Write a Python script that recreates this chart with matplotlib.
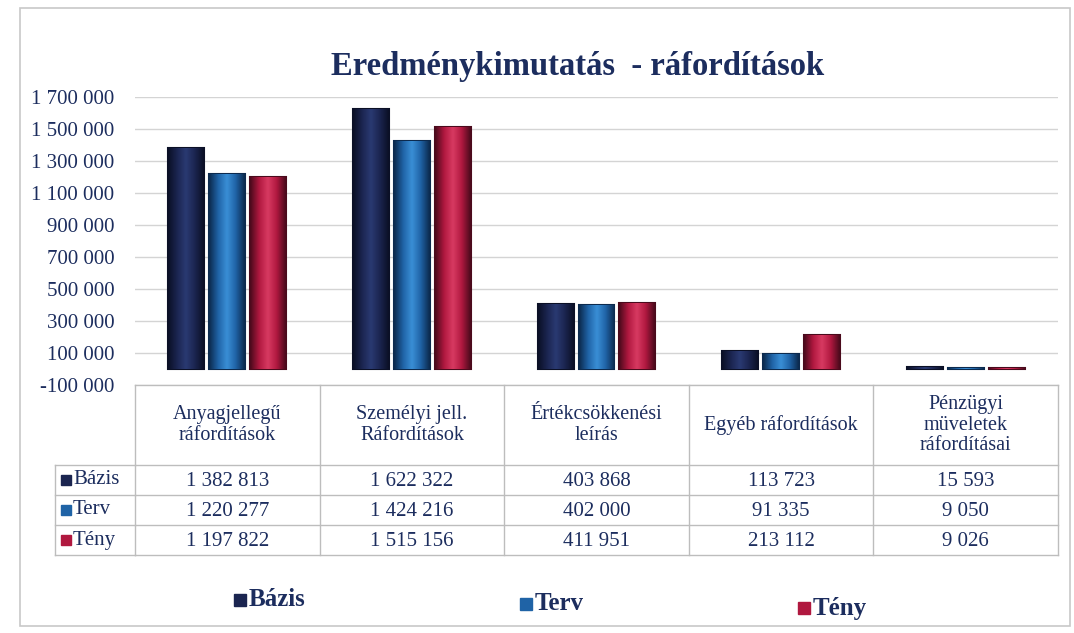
import numpy as np
import matplotlib
matplotlib.use("Agg")
import matplotlib.pyplot as plt
from matplotlib.colors import LinearSegmentedColormap
from matplotlib.patches import Rectangle

categories = ["Anyagjellegű\nráfordítások", "Személyi jell.\nRáfordítások",
              "Értékcsökkenési\nleírás", "Egyéb ráfordítások",
              "Pénzügyi\nmüveletek\nráfordításai"]
series_names = ["Bázis", "Terv", "Tény"]
bazis = [1382813, 1622322, 403868, 113723, 15593]
terv = [1220277, 1424216, 402000, 91335, 9050]
teny = [1197822, 1515156, 411951, 213112, 9026]
value_labels = [
    ["1 382 813", "1 622 322", "403 868", "113 723", "15 593"],
    ["1 220 277", "1 424 216", "402 000", "91 335", "9 050"],
    ["1 197 822", "1 515 156", "411 951", "213 112", "9 026"],
]
yticks = list(range(-100000, 1700001, 200000))
ytick_labels = ["-100 000", "100 000", "300 000", "500 000", "700 000", "900 000",
                "1 100 000", "1 300 000", "1 500 000", "1 700 000"]

colors = ["#1b2550", "#1f63a6", "#b0183f"]
dark = ["#0b1026", "#0c2a4e", "#4a0a1c"]
light = ["#2a3a72", "#3a8fd6", "#d83a62"]
txt = "#1c2d5e"
serif = ["Liberation Serif", "DejaVu Serif"]
plt.rcParams["font.family"] = serif

W, H = 1074, 633
fig = plt.figure(figsize=(W / 100, H / 100), dpi=100)
fig.patch.set_facecolor("white")

# overlay axes in pixel coordinates for table/frame
ov = fig.add_axes([0, 0, 1, 1])
ov.set_xlim(0, W)
ov.set_ylim(H, 0)
ov.axis("off")
ov.add_patch(Rectangle((20, 8), 1050, 618, fill=False, ec="#c8c8c8", lw=1.2))

# chart axes
x0, x1 = 135, 1058
ytop, ybot = 97, 385
ax = fig.add_axes([x0 / W, 1 - ybot / H, (x1 - x0) / W, (ybot - ytop) / H])
ax.set_facecolor("none")
n = len(categories)
ax.set_xlim(-0.5, n - 0.5)
ax.set_ylim(-100000, 1700000)
for s in ax.spines.values():
    s.set_visible(False)
ax.set_xticks([])
ax.set_yticks(yticks)
ax.set_yticklabels(ytick_labels, fontsize=15, color=txt)
ax.tick_params(axis="y", length=0, pad=15)
ax.grid(axis="y", color="#d4d4d4", lw=1)
ax.set_axisbelow(True)

xs = np.arange(n)
bw = 0.195
off = 0.222
for i, (vals, c, d, l) in enumerate(zip([bazis, terv, teny], colors, dark, light)):
    bars = ax.bar(xs + (i - 1) * off, vals, bw, color=c, edgecolor=d, lw=1.5, zorder=3)
    cmap = LinearSegmentedColormap.from_list("g", [d, c, l, c, d])
    grad = np.linspace(0, 1, 64)[None, :]
    for b in bars:
        bx, by = b.get_x(), b.get_y()
        bwid, bh = b.get_width(), b.get_height()
        im = ax.imshow(grad, cmap=cmap, aspect="auto", extent=(bx, bx + bwid, by, by + bh),
                       zorder=3.5, interpolation="bicubic")
        im.set_clip_path(b)
ax.set_xlim(-0.5, n - 0.5)
ax.set_ylim(-100000, 1700000)

# title
fig.text(578 / W, 1 - 66 / H, "Eredménykimutatás  - ráfordítások", ha="center", va="center",
         fontsize=23.5, fontweight="bold", color=txt)

# table
cols = np.linspace(x0, x1, n + 1)
rows = [385, 465, 495, 525, 555]
gc = "#bdbdbd"
for cx in cols:
    ov.plot([cx, cx], [rows[0], rows[-1]], color=gc, lw=1)
for ry in rows:
    ov.plot([x0, x1], [ry, ry], color=gc, lw=1)
for ry in rows[1:]:
    ov.plot([55, x0], [ry, ry], color=gc, lw=1)
ov.plot([55, 55], [rows[1], rows[-1]], color=gc, lw=1)
for j, cat in enumerate(categories):
    cx = (cols[j] + cols[j + 1]) / 2
    ov.text(cx, 425, cat, ha="center", va="center", fontsize=14.5, color=txt, linespacing=1.1)
    for r in range(3):
        ov.text(cx, (rows[r + 1] + rows[r + 2]) / 2 + 1, value_labels[r][j], ha="center",
                va="center", fontsize=15, color=txt)
for r, name in enumerate(series_names):
    cy = (rows[r + 1] + rows[r + 2]) / 2
    ov.add_patch(Rectangle((61, cy - 5), 10, 10, color=colors[r]))
    ov.text(73, cy, name, ha="left", va="center", fontsize=15, color=txt)

# legend
for (lx, ly), name, c in zip([(234, 600), (520, 604), (798, 608)], series_names, colors):
    ov.add_patch(Rectangle((lx, ly - 6), 12, 12, color=c))
    ov.text(lx + 15, ly, name, ha="left", va="center", fontsize=18, fontweight="bold", color=txt)

fig.savefig("out.png", dpi=100)
